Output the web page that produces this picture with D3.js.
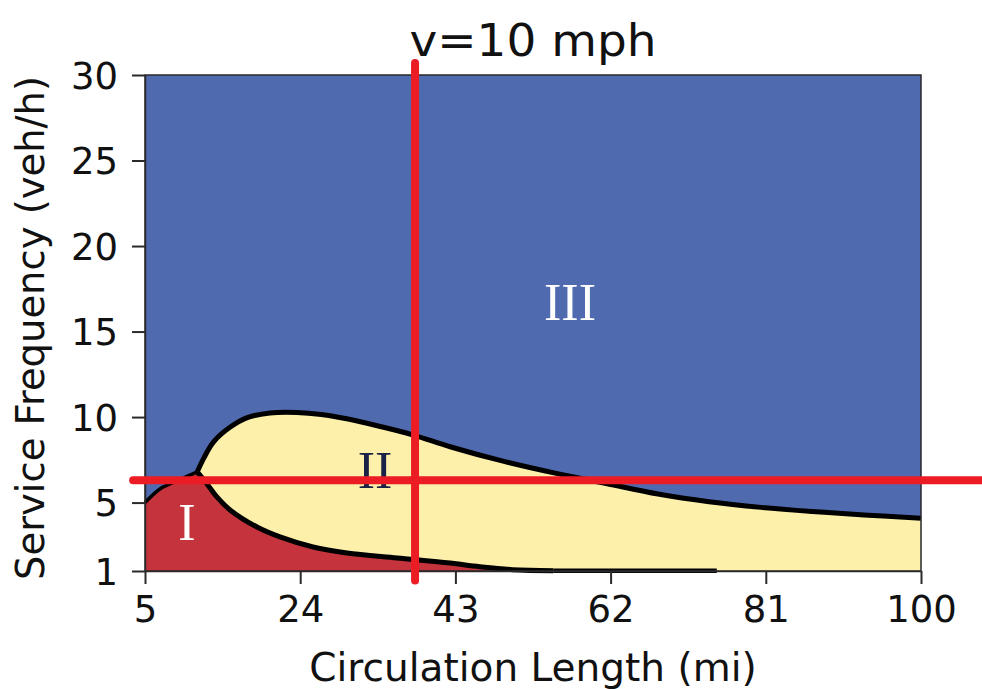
<!DOCTYPE html>
<html>
<head>
<meta charset="utf-8">
<script src="https://cdn.jsdelivr.net/npm/d3@7"></script>
<style>
  html, body { margin: 0; padding: 0; background: #ffffff; }
  svg { display: block; }
  text { font-family: "DejaVu Sans", sans-serif; }
</style>
</head>
<body>
<svg id="chart" width="982" height="689"></svg>
<script>
// ---- data ----
const xTicks = [5, 24, 43, 62, 81, 100];
const yTicks = [1, 5, 10, 15, 20, 25, 30];

// boundary between region I and region III (left, low frequency)
const boundaryI_III = [[5, 5.0], [7.0, 5.85], [9.3, 6.35], [11.4, 6.8]];
// boundary between region II and region III (top of yellow)
const boundaryII_III = [[11.4, 6.8], [12.2, 7.6], [13.4, 8.55], [15.4, 9.4], [17.6, 9.98],
  [20.3, 10.24], [23.6, 10.27], [26.6, 10.15], [29.7, 9.9], [33.8, 9.45], [37.85, 8.95],
  [42.46, 8.25], [48.83, 7.42], [55.2, 6.72], [61.44, 6.12], [67.8, 5.5], [74.05, 5.05],
  [80.42, 4.72], [86.66, 4.48], [93.03, 4.28], [100, 4.08]];
// boundary between region I and region II (bottom of yellow)
const boundaryI_II = [[11.4, 6.8], [12.5, 6.15], [13.8, 5.33], [15.41, 4.57], [18.71, 3.57],
  [21.53, 2.99], [25.57, 2.40], [29.73, 2.05], [35.85, 1.76], [41.97, 1.48], [46, 1.25],
  [50, 1.08], [55, 1.02]];
const bottomStrip = [[55, 1.02], [75, 1.02]];

// reference lines (v = 10 mph)
const refVertical = { x: 38.06, y0: 30.7, y1: 0.45 };
const refHorizontal = { y: 6.3, x0: 3.55, x1: 107.5 };

const regionLabels = [
  { text: "I", x: 10.14, y: 2.81, color: "#ffffff" },
  { text: "II", x: 33.16, y: 5.85, color: "#1b2247" },
  { text: "III", x: 57.03, y: 15.68, color: "#ffffff" }
];

const titleText = "v=10 mph";
const xLabel = "Circulation Length (mi)";
const yLabel = "Service Frequency (veh/h)";

// ---- layout ----
const svg = d3.select("#chart");
const x = d3.scaleLinear().domain([5, 100]).range([145, 921]);
const y = d3.scaleLinear().domain([1, 30]).range([571, 75]);

const colBlue = "#4f6aae", colYellow = "#fcf0aa", colRed = "#c5333c", colRef = "#ec1c24";

const line = d3.line().x(d => x(d[0])).y(d => y(d[1])).curve(d3.curveCatmullRom.alpha(0.5));
const straight = d3.line().x(d => x(d[0])).y(d => y(d[1]));
const cont = s => s.replace(/^M/, "L");

// background region III
svg.append("rect")
  .attr("x", x(5)).attr("y", y(30))
  .attr("width", x(100) - x(5)).attr("height", y(1) - y(30))
  .attr("fill", colBlue);

// region II (yellow)
const yellowPath =
  line(boundaryII_III) +
  cont(straight([[100, 4.08], [100, 1], [55, 1]])) +
  cont(line(boundaryI_II.slice().reverse())) + "Z";
svg.append("path").attr("d", yellowPath).attr("fill", colYellow);

// region I (red)
const redPath =
  straight([[5, 1], [5, 5.0]]) +
  cont(line(boundaryI_III)) +
  cont(line(boundaryI_II)) +
  cont(straight([[55, 1.02], [55, 1], [5, 1]])) + "Z";
svg.append("path").attr("d", redPath).attr("fill", colRed);

// boundaries
const gB = svg.append("g").attr("fill", "none").attr("stroke", "#000").attr("stroke-linejoin", "round");
gB.append("path").attr("d", line(boundaryII_III)).attr("stroke-width", 5);
gB.append("path").attr("d", line(boundaryI_II)).attr("stroke-width", 5);
gB.append("path").attr("d", line(boundaryI_III)).attr("stroke-width", 3.5);
gB.append("path").attr("d", straight(bottomStrip)).attr("stroke-width", 4.5);

// region labels
svg.selectAll("text.region").data(regionLabels).join("text")
  .attr("class", "region")
  .attr("x", d => x(d.x)).attr("y", d => y(d.y))
  .attr("text-anchor", "middle")
  .style("font-family", "'Liberation Serif', 'DejaVu Serif', serif")
  .style("font-size", "52px")
  .attr("fill", d => d.color)
  .text(d => d.text);

// spines
svg.append("rect")
  .attr("x", x(5)).attr("y", y(30))
  .attr("width", x(100) - x(5)).attr("height", y(1) - y(30))
  .attr("fill", "none").attr("stroke", "#2a2a2a").attr("stroke-width", 1.5);

// axes
const xAxis = d3.axisBottom(x).tickValues(xTicks).tickSize(13).tickPadding(12).tickSizeOuter(0);
const yAxis = d3.axisLeft(y).tickValues(yTicks).tickSize(13).tickPadding(14).tickSizeOuter(0);
const gx = svg.append("g").attr("transform", `translate(0,${y(1)})`).call(xAxis);
const gy = svg.append("g").attr("transform", `translate(${x(5)},0)`).call(yAxis);
[gx, gy].forEach(g => {
  g.select(".domain").attr("stroke", "#2a2a2a").attr("stroke-width", 1.5);
  g.selectAll(".tick line").attr("stroke", "#2a2a2a").attr("stroke-width", 2);
  g.selectAll(".tick text").attr("fill", "#111")
    .style("font-family", "'DejaVu Sans', sans-serif").style("font-size", "37px");
});
gy.selectAll(".tick text").attr("dy", "0.36em");

// reference lines
svg.append("line")
  .attr("x1", x(refVertical.x)).attr("x2", x(refVertical.x))
  .attr("y1", y(refVertical.y0)).attr("y2", y(refVertical.y1))
  .attr("stroke", colRef).attr("stroke-width", 8).attr("stroke-linecap", "round");
svg.append("line")
  .attr("x1", x(refHorizontal.x0)).attr("x2", x(refHorizontal.x1))
  .attr("y1", y(refHorizontal.y)).attr("y2", y(refHorizontal.y))
  .attr("stroke", colRef).attr("stroke-width", 8).attr("stroke-linecap", "round");

// title and axis labels
svg.append("text")
  .attr("x", (x(5) + x(100)) / 2).attr("y", 56)
  .attr("text-anchor", "middle")
  .style("font-size", "44px").attr("fill", "#111")
  .attr("textLength", 247).attr("lengthAdjust", "spacingAndGlyphs")
  .text(titleText);

svg.append("text")
  .attr("x", (x(5) + x(100)) / 2).attr("y", 681)
  .attr("text-anchor", "middle")
  .style("font-size", "39px").attr("fill", "#111")
  .text(xLabel);

svg.append("text")
  .attr("transform", `translate(44,328) rotate(-90)`)
  .attr("text-anchor", "middle")
  .style("font-size", "38.5px").attr("fill", "#111")
  .text(yLabel);
</script>
</body>
</html>
